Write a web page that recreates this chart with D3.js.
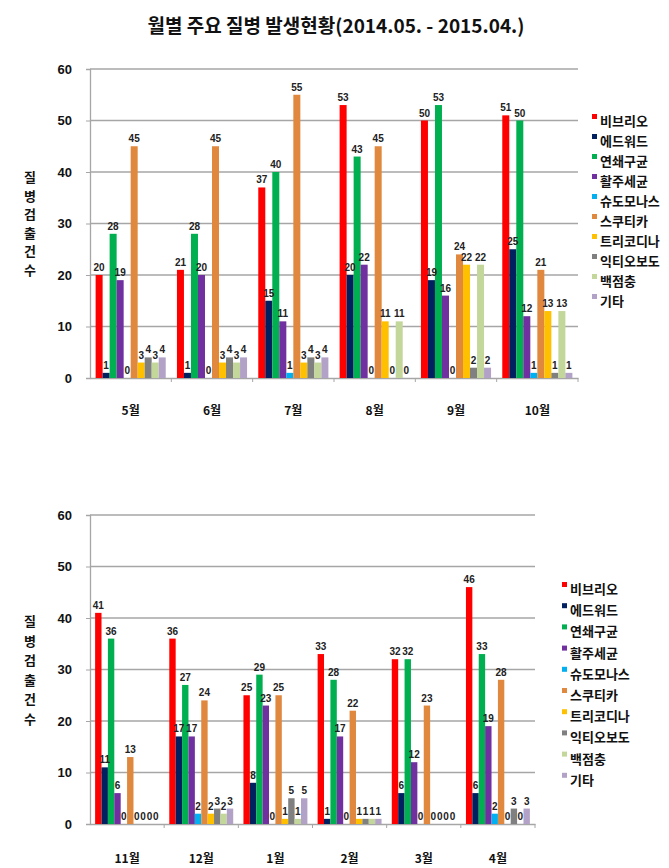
<!DOCTYPE html>
<html><head><meta charset="utf-8">
<script src="https://cdn.jsdelivr.net/npm/d3@7"></script>
<style>
body{margin:0;background:#fff;}
svg{display:block;}
text{font-family:"Liberation Sans",Arial,sans-serif;}
.kr{font-family:"Noto Sans CJK KR","Noto Sans",sans-serif;}
</style></head>
<body><svg id="c" width="669" height="868"></svg>
<script>
const title = "월별 주요 질병 발생현황(2014.05. - 2015.04.)";
const series = ["비브리오","에드워드","연쇄구균","활주세균","슈도모나스","스쿠티카","트리코디나","익티오보도","백점충","기타"];
const colors = ["#ff0000","#002060","#00b050","#7030a0","#00b0f0","#e0883e","#ffc000","#808080","#c4d79b","#b3a2c7"];
const monthsTop = ["5월","6월","7월","8월","9월","10월"];
const monthsBottom = ["11월","12월","1월","2월","3월","4월"];
// values[month][series]
const valuesTop = [
  [20,1,28,19,0,45,3,4,3,4],
  [21,1,28,20,0,45,3,4,3,4],
  [37,15,40,11,1,55,3,4,3,4],
  [53,20,43,22,0,45,11,0,11,0],
  [50,19,53,16,0,24,22,2,22,2],
  [51,25,50,12,1,21,13,1,13,1]
];
const valuesBottom = [
  [41,11,36,6,0,13,0,0,0,0],
  [36,17,27,17,2,24,2,3,2,3],
  [25,8,29,23,0,25,1,5,1,5],
  [33,1,28,17,0,22,1,1,1,1],
  [32,6,32,12,0,23,0,0,0,0],
  [46,6,33,19,2,28,0,3,0,3]
];
const yTicks = [0,10,20,30,40,50,60];
const yTitle = ["질","병","검","출","건","수"];

const svg = d3.select("#c");
svg.append("rect").attr("width",669).attr("height",868).attr("fill","#fff");
svg.append("text").attr("class","kr").attr("x",336).attr("y",33).attr("text-anchor","middle")
  .attr("font-size",19).attr("font-weight","bold").attr("fill","#111").text(title);

function chart(cfg){
  const {months, values, left, right, top, bottom, legX, legY, legStep, ytX, ytY, ytStep, xlabY} = cfg;
  const g = svg.append("g");
  const y = d3.scaleLinear().domain([0,60]).range([bottom, top]);
  const x0 = d3.scaleBand().domain(months).range([left, right]).paddingInner(0).paddingOuter(0);
  const x1 = d3.scaleBand().domain(series).range([0, x0.bandwidth()]).paddingOuter(0.8).paddingInner(0);
  // gridlines
  g.selectAll(".grid").data(yTicks.filter(t=>t>0)).join("line")
    .attr("x1",left).attr("x2",right).attr("y1",d=>y(d)).attr("y2",d=>y(d))
    .attr("stroke","#a6a6a6").attr("stroke-width",1.3);
  // y axis
  const ya = g.append("g").attr("transform",`translate(${left},0)`)
    .call(d3.axisLeft(y).tickValues(yTicks).tickSize(4).tickPadding(14));
  ya.select(".domain").attr("stroke","#a6a6a6").attr("stroke-width",1.3);
  ya.selectAll(".tick line").attr("stroke","#a6a6a6");
  ya.selectAll(".tick text").attr("font-size",13).attr("font-weight","bold").attr("fill","#111");
  // x axis
  const xa = g.append("g").attr("transform",`translate(0,${bottom})`)
    .call(d3.axisBottom(x0).tickSize(0).tickPadding(0));
  xa.select(".domain").attr("stroke","#a6a6a6").attr("stroke-width",1.3);
  xa.selectAll(".tick text").attr("class","kr").attr("font-size",12).attr("font-weight","bold")
    .attr("fill","#111").attr("dy",0).attr("y",xlabY - bottom);
  // category dividers
  g.selectAll(".div").data(months.slice(1).concat(["__end"])).join("line")
    .attr("x1",(d,i)=> i<months.length-1 ? x0(d) : right)
    .attr("x2",(d,i)=> i<months.length-1 ? x0(d) : right)
    .attr("y1",bottom).attr("y2",bottom+4).attr("stroke","#a6a6a6");
  // bars
  const mg = g.selectAll(".m").data(months).join("g").attr("transform",d=>`translate(${x0(d)},0)`);
  mg.each(function(m, mi){
    const sel = d3.select(this);
    const rows = series.map((s,si)=>({s, si, v: values[mi][si]}));
    sel.selectAll("rect").data(rows).join("rect")
      .attr("x",d=>x1(d.s)).attr("width",x1.bandwidth())
      .attr("y",d=>y(d.v)).attr("height",d=>bottom-y(d.v)).attr("fill",d=>colors[d.si]);
    sel.selectAll("text").data(rows).join("text")
      .attr("x",d=>x1(d.s)+x1.bandwidth()/2).attr("y",d=>y(d.v)-4)
      .attr("text-anchor","middle").attr("font-size",10).attr("font-weight","bold")
      .attr("fill","#222").text(d=>d.v);
  });
  // y title
  g.selectAll(".yt").data(yTitle).join("text").attr("class","kr")
    .attr("x",ytX).attr("y",(d,i)=>ytY+i*ytStep).attr("text-anchor","middle")
    .attr("font-size",13).attr("font-weight","bold").attr("fill","#111").text(d=>d);
  // legend
  const lg = g.selectAll(".lg").data(series).join("g")
    .attr("transform",(d,i)=>`translate(${legX},${legY+i*legStep})`);
  lg.append("rect").attr("x",0).attr("y",-7).attr("width",5).attr("height",5).attr("fill",(d,i)=>colors[i]);
  lg.append("text").attr("class","kr").attr("x",8).attr("y",5).attr("font-size",13)
    .attr("font-weight","bold").attr("fill","#111").text(d=>d);
}

chart({months:monthsTop, values:valuesTop, left:90, right:578, top:69, bottom:378,
  legX:592, legY:121, legStep:20, ytX:30, ytY:182, ytStep:18.6, xlabY:415});
chart({months:monthsBottom, values:valuesBottom, left:90, right:535, top:515, bottom:824,
  legX:562, legY:589, legStep:21.2, ytX:30, ytY:626, ytStep:19.5, xlabY:863});
</script></body></html>
